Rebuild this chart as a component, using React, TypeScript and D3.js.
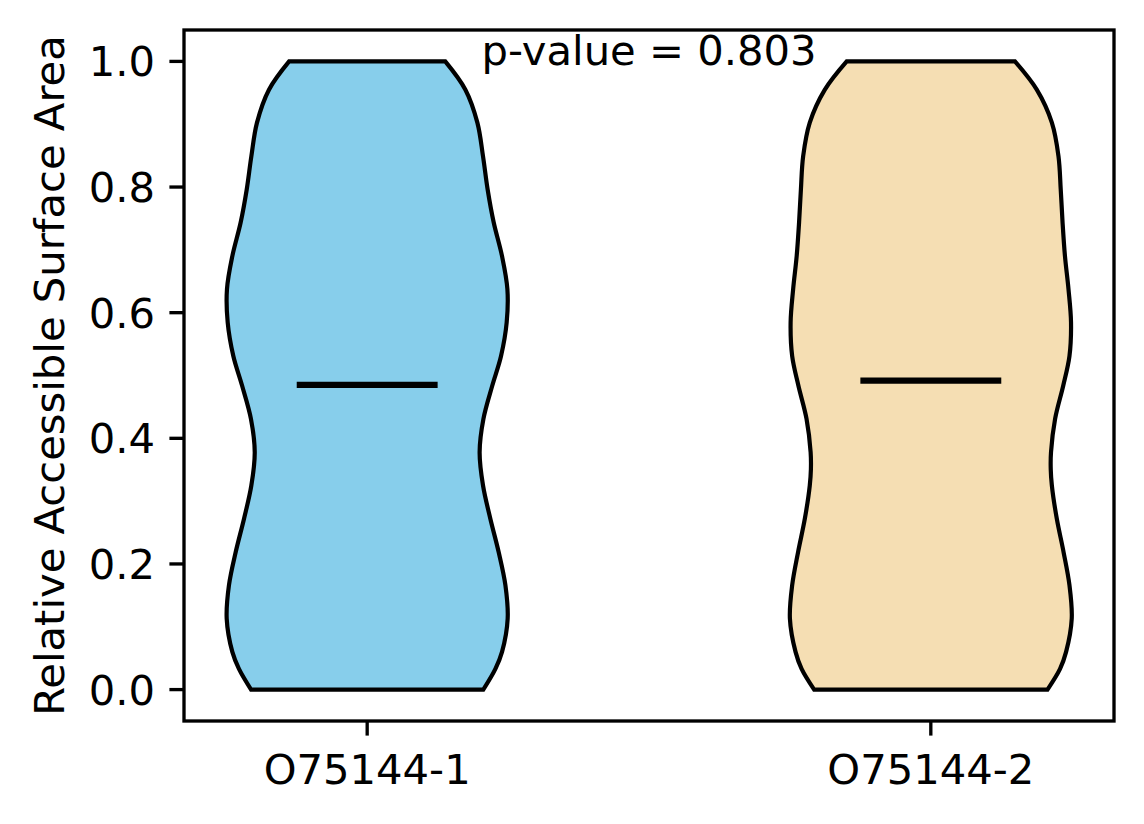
import { useEffect } from "react";
import * as d3 from "d3";

// figure size and axes box (pixels)
const width = 1144,
	height = 824;
const margin = { left: 184, right: 30, top: 30, bottom: 103 };

const categories = ["O75144-1", "O75144-2"];
const fills = ["#87CEEB", "#F5DEB3"];

// density profile: value grid and relative half width (max = 1)
const grid1 = [0, 0.033, 0.06, 0.113, 0.166, 0.219, 0.272, 0.325, 0.378, 0.431, 0.484, 0.531, 0.5845, 0.6375, 0.69, 0.7435, 0.796, 0.849, 0.9025, 0.955, 1.0];
const dens1 = [0.824, 0.91, 0.957, 0.997, 0.981, 0.933, 0.874, 0.822, 0.798, 0.825, 0.888, 0.95, 0.99, 0.995, 0.957, 0.898, 0.855, 0.822, 0.782, 0.697, 0.554];
const grid2 = [0, 0.033, 0.06, 0.113, 0.166, 0.219, 0.272, 0.325, 0.351, 0.378, 0.431, 0.484, 0.531, 0.5845, 0.6375, 0.69, 0.7435, 0.796, 0.849, 0.9025, 0.955, 1.0];
const dens2 = [0.828, 0.917, 0.96, 1.0, 0.984, 0.942, 0.894, 0.859, 0.851, 0.853, 0.882, 0.94, 0.984, 0.995, 0.977, 0.952, 0.935, 0.922, 0.906, 0.859, 0.752, 0.597];
const medians = [0.485, 0.492];

const yTicks = [0, 0.2, 0.4, 0.6, 0.8, 1.0];
const pValue = "p-value = 0.803";
const yTitle = "Relative Accessible Surface Area";

const violinWidth = 0.5;
const fontSize = 41.7;

export default function App() {
	useEffect(() => {
		document.body.style.margin = "0";
	}, []);

	const x = d3.scaleLinear().domain([0.675, 2.325]).range([margin.left, width - margin.right]);
	const y = d3.scaleLinear().domain([-0.05, 1.05]).range([height - margin.bottom, margin.top]);

	const profiles = [d3.zip(grid1, dens1), d3.zip(grid2, dens2)];

	return (
		<svg width={width} height={height} style={{ display: "block", background: "white" }} fontFamily="DejaVu Sans">
			{profiles.map((prof, i) => {
				const pos = i + 1;
				const area = d3
					.area<number[]>()
					.y((d) => y(d[0]))
					.x0((d) => x(pos - (d[1] * violinWidth) / 2))
					.x1((d) => x(pos + (d[1] * violinWidth) / 2))
					.curve(d3.curveCatmullRom);
				return (
					<g key={i}>
						<path d={area(prof) ?? ""} fill={fills[i]} stroke="black" strokeWidth={4.2} strokeLinejoin="miter" />
						<line
							x1={x(pos - violinWidth / 4)}
							x2={x(pos + violinWidth / 4)}
							y1={y(medians[i])}
							y2={y(medians[i])}
							stroke="black"
							strokeWidth={6.25}
						/>
					</g>
				);
			})}

			{/* frame */}
			<rect
				x={margin.left}
				y={margin.top}
				width={width - margin.left - margin.right}
				height={height - margin.top - margin.bottom}
				fill="none"
				stroke="black"
				strokeWidth={3.33}
			/>

			{/* y axis */}
			{yTicks.map((t) => (
				<g key={t}>
					<line x1={margin.left - 14.6} x2={margin.left} y1={y(t)} y2={y(t)} stroke="black" strokeWidth={3.33} />
					<text x={margin.left - 29} y={y(t)} dy="0.36em" textAnchor="end" fontSize={fontSize}>
						{t.toFixed(1)}
					</text>
				</g>
			))}

			{/* x axis */}
			{categories.map((c, i) => (
				<g key={c}>
					<line
						x1={x(i + 1)}
						x2={x(i + 1)}
						y1={height - margin.bottom}
						y2={height - margin.bottom + 14.6}
						stroke="black"
						strokeWidth={3.33}
					/>
					<text x={x(i + 1)} y={784} textAnchor="middle" fontSize={fontSize}>
						{c}
					</text>
				</g>
			))}

			<text
				transform={`translate(64, ${(margin.top + height - margin.bottom) / 2}) rotate(-90)`}
				textAnchor="middle"
				fontSize={fontSize}
			>
				{yTitle}
			</text>

			<text x={(margin.left + width - margin.right) / 2} y={65} textAnchor="middle" fontSize={fontSize}>
				{pValue}
			</text>
		</svg>
	);
}
